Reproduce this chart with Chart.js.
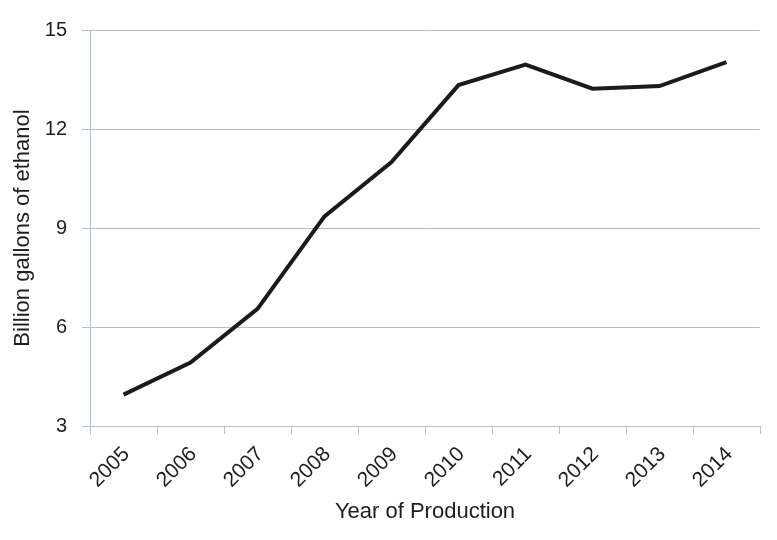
<!DOCTYPE html>
<html>
<head>
<meta charset="utf-8">
<script src="https://cdn.jsdelivr.net/npm/chart.js@4.4.1/dist/chart.umd.min.js"></script>
<style>
  html, body { margin: 0; padding: 0; background: #fff; }
  #wrap { width: 777px; height: 540px; }
</style>
</head>
<body>
<div id="wrap"><canvas id="ethanolChart" width="777" height="540"></canvas></div>
<script>
// data
const years = ['2005', '2006', '2007', '2008', '2009', '2010', '2011', '2012', '2013', '2014'];
const billionGallons = [3.95, 4.92, 6.55, 9.35, 11.0, 13.33, 13.95, 13.22, 13.3, 14.03];
const yTicks = [3, 6, 9, 12, 15];

const gridColor = '#b3c0c8';
const textColor = '#1e1e1e';
const fontFamily = 'Liberation Sans, Arial, Helvetica, sans-serif';

const ctx = document.getElementById('ethanolChart').getContext('2d');

new Chart(ctx, {
    type: 'line',
    data: {
        labels: years,
        datasets: [{
            data: billionGallons,
            borderColor: '#1b1b1b',
            borderWidth: 4,
            pointRadius: 0,
            tension: 0,
            fill: false
        }]
    },
    options: {
        responsive: false,
        animation: false,
        layout: { padding: { left: 0, top: 30, right: 17, bottom: 0 } },
        plugins: {
            legend: { display: false },
            tooltip: { enabled: false }
        },
        scales: {
            x: {
                type: 'category',
                offset: true,
                grid: {
                    offset: true,
                    drawOnChartArea: false,
                    drawTicks: true,
                    tickLength: 8,
                    color: gridColor
                },
                border: { display: true, color: gridColor },
                ticks: {
                    color: textColor,
                    font: { family: fontFamily, size: 21 },
                    minRotation: 45,
                    maxRotation: 45,
                    padding: 8,
                    labelOffset: 3
                },
                title: {
                    display: true,
                    text: 'Year of Production',
                    color: textColor,
                    font: { family: fontFamily, size: 22 },
                    padding: { top: 4, bottom: 15 }
                },
                afterFit: (scale) => { scale.height = 114; }
            },
            y: {
                min: 3,
                max: 15,
                afterBuildTicks: (scale) => {
                    scale.ticks = yTicks.map(v => ({ value: v }));
                },
                grid: {
                    color: gridColor,
                    lineWidth: 1,
                    tickLength: 8
                },
                border: { display: true, color: gridColor },
                ticks: {
                    color: textColor,
                    font: { family: fontFamily, size: 20 },
                    padding: 15
                },
                title: {
                    display: true,
                    text: 'Billion gallons of ethanol',
                    color: textColor,
                    font: { family: fontFamily, size: 22 },
                    padding: { top: 10, bottom: 4 }
                },
                afterFit: (scale) => { scale.width = 90; }
            }
        }
    }
});
</script>
</body>
</html>
